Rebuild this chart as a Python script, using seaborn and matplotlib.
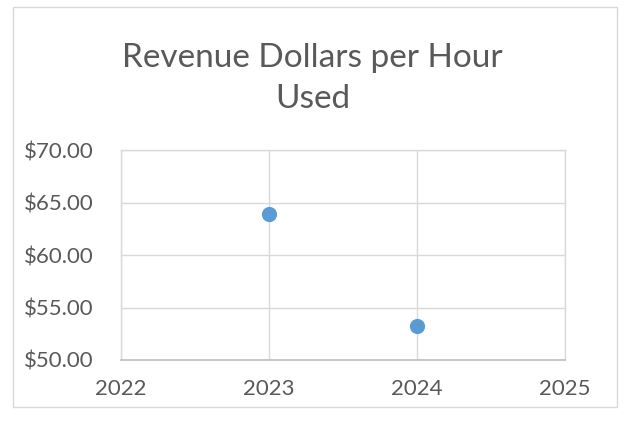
import matplotlib
matplotlib.use("Agg")
import matplotlib.pyplot as plt
import seaborn as sns
import pandas as pd
from matplotlib.patches import Rectangle
from matplotlib.ticker import FuncFormatter

# data
years = [2023, 2024]
revenue_per_hour = [63.9, 53.25]
x_ticks = [2022, 2023, 2024, 2025]
y_ticks = [50, 55, 60, 65, 70]

df = pd.DataFrame({"year": years, "rev": revenue_per_hour})

sns.set_style("white")
plt.rcParams['font.family'] = ['Lato', 'DejaVu Sans']

text_col = "#595959"
grid_col = "#d9d9d9"

fig = plt.figure(figsize=(6.25, 4.24), dpi=100)
ax = fig.add_axes([0.194, 0.151, 0.710, 0.495])

sns.scatterplot(data=df, x="year", y="rev", ax=ax, s=120, color="#5B9BD5",
                edgecolor="#5B9BD5", linewidth=0, zorder=3, legend=False)

ax.set_xlim(2022, 2025)
ax.set_ylim(50, 70)
ax.set_xticks(x_ticks)
ax.set_yticks(y_ticks)
ax.yaxis.set_major_formatter(FuncFormatter(lambda v, p: f"${v:.2f}"))
ax.grid(True, color=grid_col, linewidth=1.0)
ax.set_axisbelow(True)
# outer gridlines drawn as spines so they are not clipped
for s in ["top", "right", "left"]:
    ax.spines[s].set_color(grid_col)
    ax.spines[s].set_linewidth(1.0)
ax.spines["bottom"].set_color("#bfbfbf")
ax.spines["bottom"].set_linewidth(1.2)
ax.tick_params(axis="both", length=0, labelsize=16, labelcolor=text_col)
ax.tick_params(axis="y", pad=20)
ax.tick_params(axis="x", pad=14)
ax.set_xlabel("")
ax.set_ylabel("")

fig.text(0.5, 0.814, "Revenue Dollars per Hour\nUsed", ha="center", va="center",
         fontsize=24, color=text_col, linespacing=1.45)

fig.patches.append(Rectangle((0.021, 0.04), 0.966, 0.943, transform=fig.transFigure,
                             fill=False, edgecolor=grid_col, linewidth=1.0))

fig.savefig("out.png", dpi=100)
